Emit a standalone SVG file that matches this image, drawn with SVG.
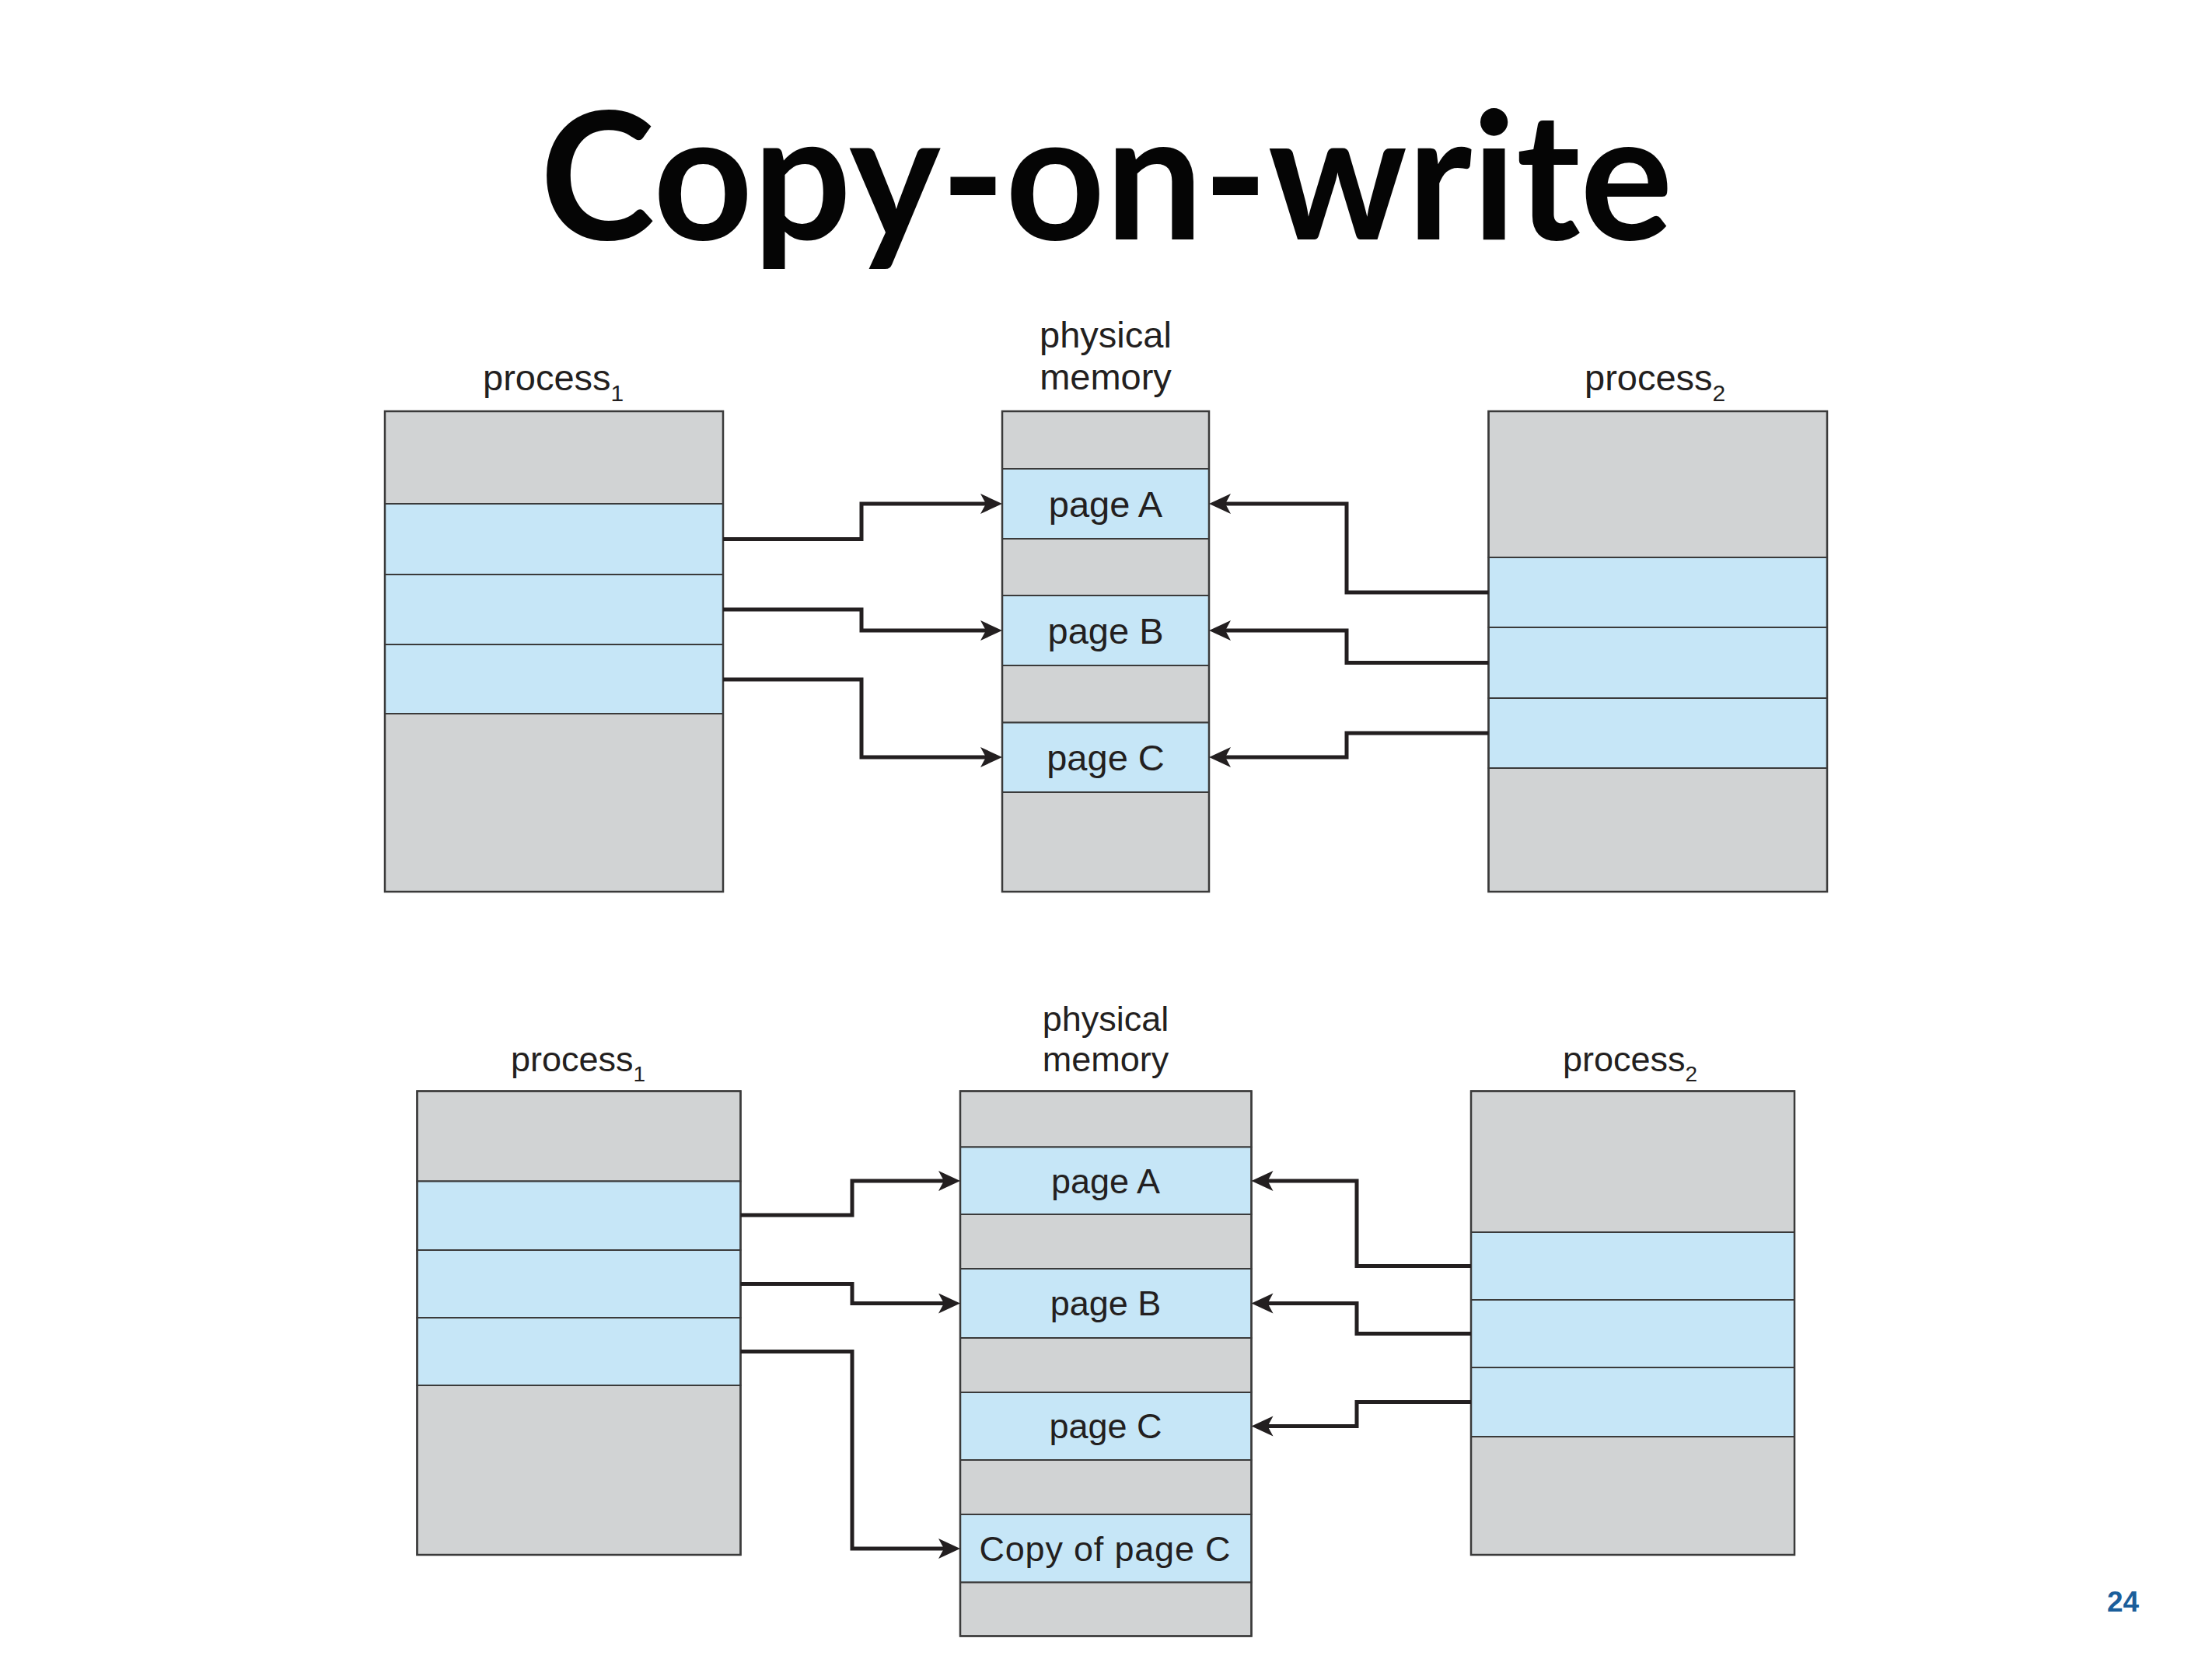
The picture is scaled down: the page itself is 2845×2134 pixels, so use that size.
<svg xmlns="http://www.w3.org/2000/svg" width="2845" height="2134" viewBox="0 0 2845 2134">
<style>
.g{fill:#d1d3d4;stroke:#3a3a3a;stroke-width:2}
.b{fill:#c6e6f7;stroke:#3a3a3a;stroke-width:2}
.frame{fill:none;stroke:#3a3a3a;stroke-width:2.5}
.t{font-family:"Liberation Sans",Arial,Helvetica,sans-serif;fill:#231f20}
.t47{font-size:47px}
.t45{font-size:45px}
.c{text-anchor:middle}
.sub{font-size:30px}
.subb{font-size:28px}
.conn{fill:none;stroke:#231f20;stroke-width:5;stroke-linejoin:miter}
.title{font-family:Lato,"Open Sans","Liberation Sans",sans-serif;font-weight:bold;font-size:228px;fill:#050505;text-anchor:middle}
.pnum{font-family:"Liberation Sans",Arial,sans-serif;font-weight:bold;font-size:37px;fill:#1b5e9b}
</style>
<defs>
<marker id="arr" markerUnits="userSpaceOnUse" markerWidth="30" markerHeight="28" refX="19" refY="13" orient="auto" viewBox="0 0 30 28">
<path d="M0,0 L28,13 L0,26 L7,13 Z" fill="#231f20"/>
</marker>
</defs>
<rect x="0" y="0" width="2845" height="2134" fill="#ffffff"/>

<g id="title">
<text class="title" x="1423" y="308" textLength="1457" lengthAdjust="spacingAndGlyphs">Copy-on-write</text>
</g>

<!-- TOP DIAGRAM -->
<g id="top-process1">
<text class="t t47" x="621" y="502">process<tspan class="sub" dy="14">1</tspan></text>
<rect class="g" x="495" y="529" width="435" height="119"/>
<rect class="b" x="495" y="648" width="435" height="91"/>
<rect class="b" x="495" y="739" width="435" height="90"/>
<rect class="b" x="495" y="829" width="435" height="89"/>
<rect class="g" x="495" y="918" width="435" height="229"/>
<rect class="frame" x="495" y="529" width="435" height="618"/>
</g>

<g id="top-physical">
<text class="t t47 c" x="1422" y="447">physical</text>
<text class="t t47 c" x="1422" y="501">memory</text>
<rect class="g" x="1289" y="529" width="266" height="74"/>
<rect class="b" x="1289" y="603" width="266" height="90"/>
<rect class="g" x="1289" y="693" width="266" height="73"/>
<rect class="b" x="1289" y="766" width="266" height="90"/>
<rect class="g" x="1289" y="856" width="266" height="73.5"/>
<rect class="b" x="1289" y="929.5" width="266" height="89.5"/>
<rect class="g" x="1289" y="1019" width="266" height="128"/>
<rect class="frame" x="1289" y="529" width="266" height="618"/>
<text class="t t47 c" x="1422" y="665">page A</text>
<text class="t t47 c" x="1422" y="828">page B</text>
<text class="t t47 c" x="1422" y="991">page C</text>
</g>

<g id="top-process2">
<text class="t t47" x="2038" y="502">process<tspan class="sub" dy="14">2</tspan></text>
<rect class="g" x="1914.5" y="529" width="435.5" height="188"/>
<rect class="b" x="1914.5" y="717" width="435.5" height="90"/>
<rect class="b" x="1914.5" y="807" width="435.5" height="91"/>
<rect class="b" x="1914.5" y="898" width="435.5" height="90"/>
<rect class="g" x="1914.5" y="988" width="435.5" height="159"/>
<rect class="frame" x="1914.5" y="529" width="435.5" height="618"/>
</g>

<!-- BOTTOM DIAGRAM -->
<g id="bottom-process1">
<text class="t t45" x="657" y="1378">process<tspan class="subb" dy="13">1</tspan></text>
<rect class="g" x="536.5" y="1403.5" width="416" height="116"/>
<rect class="b" x="536.5" y="1519.5" width="416" height="88.5"/>
<rect class="b" x="536.5" y="1608" width="416" height="87"/>
<rect class="b" x="536.5" y="1695" width="416" height="87"/>
<rect class="g" x="536.5" y="1782" width="416" height="218"/>
<rect class="frame" x="536.5" y="1403.5" width="416" height="596.5"/>
</g>

<g id="bottom-physical">
<text class="t t45 c" x="1422" y="1326">physical</text>
<text class="t t45 c" x="1422" y="1378">memory</text>
<rect class="g" x="1235" y="1403.5" width="374.5" height="72"/>
<rect class="b" x="1235" y="1475.5" width="374.5" height="86.5"/>
<rect class="g" x="1235" y="1562" width="374.5" height="70"/>
<rect class="b" x="1235" y="1632" width="374.5" height="89"/>
<rect class="g" x="1235" y="1721" width="374.5" height="70"/>
<rect class="b" x="1235" y="1791" width="374.5" height="87"/>
<rect class="g" x="1235" y="1878" width="374.5" height="70"/>
<rect class="b" x="1235" y="1948" width="374.5" height="87.5"/>
<rect class="g" x="1235" y="2035.5" width="374.5" height="69"/>
<rect class="frame" x="1235" y="1403.5" width="374.5" height="701"/>
<text class="t t45 c" x="1422" y="1535">page A</text>
<text class="t t45 c" x="1422" y="1692">page B</text>
<text class="t t45 c" x="1422" y="1850">page C</text>
<text class="t t45 c" x="1421" y="2008" textLength="323" lengthAdjust="spacing">Copy of page C</text>
</g>

<g id="bottom-process2">
<text class="t t45" x="2010" y="1378">process<tspan class="subb" dy="13">2</tspan></text>
<rect class="g" x="1892" y="1403.5" width="416" height="181.5"/>
<rect class="b" x="1892" y="1585" width="416" height="87"/>
<rect class="b" x="1892" y="1672" width="416" height="87"/>
<rect class="b" x="1892" y="1759" width="416" height="89"/>
<rect class="g" x="1892" y="1848" width="416" height="152"/>
<rect class="frame" x="1892" y="1403.5" width="416" height="596.5"/>
</g>

<g id="connectors">
<path class="conn" marker-end="url(#arr)" d="M930,693.5 H1108 V648 H1280"/>
<path class="conn" marker-end="url(#arr)" d="M930,784 H1108 V811 H1280"/>
<path class="conn" marker-end="url(#arr)" d="M930,874 H1108 V974 H1280"/>
<path class="conn" marker-end="url(#arr)" d="M1914.5,762 H1732 V648 H1564"/>
<path class="conn" marker-end="url(#arr)" d="M1914.5,852.5 H1732 V811 H1564"/>
<path class="conn" marker-end="url(#arr)" d="M1914.5,943 H1732 V974 H1564"/>
<path class="conn" marker-end="url(#arr)" d="M952.5,1563 H1096 V1519 H1226"/>
<path class="conn" marker-end="url(#arr)" d="M952.5,1651.5 H1096 V1676.5 H1226"/>
<path class="conn" marker-end="url(#arr)" d="M952.5,1738.5 H1096 V1992 H1226"/>
<path class="conn" marker-end="url(#arr)" d="M1892,1628.5 H1745 V1519 H1618.5"/>
<path class="conn" marker-end="url(#arr)" d="M1892,1715.5 H1745 V1676.5 H1618.5"/>
<path class="conn" marker-end="url(#arr)" d="M1892,1803.5 H1745 V1834.5 H1618.5"/>
</g>

<g id="page-number">
<text class="pnum" x="2710" y="2073">24</text>
</g>
</svg>
